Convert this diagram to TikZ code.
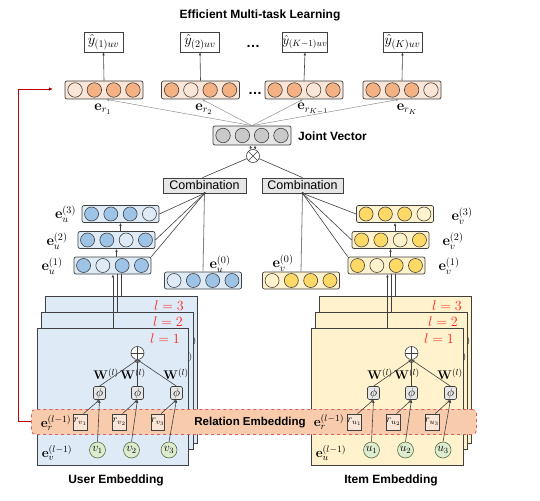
\RequirePackage{fix-cm}
\documentclass[tikz,border=0pt]{standalone}
\usepackage[no-math]{fontspec}
\setmainfont{Liberation Sans}
\usetikzlibrary{arrows.meta}
\definecolor{orD}{HTML}{F4B183}
\definecolor{orL}{HTML}{FBE5D6}
\definecolor{blD}{HTML}{9DC3E6}
\definecolor{blL}{HTML}{DEEBF7}
\definecolor{yeD}{HTML}{FFD966}
\definecolor{yeL}{HTML}{FFF2CC}
\definecolor{grD}{HTML}{C9C9C9}
\definecolor{grL}{HTML}{E7E6E6}
\definecolor{ubg}{HTML}{DEEBF7}
\definecolor{ibg}{HTML}{FFF2CC}
\definecolor{gnF}{HTML}{DDEBCF}
\definecolor{gnB}{HTML}{5A6E45}
\definecolor{bandF}{HTML}{F8CBAD}
\definecolor{bandB}{HTML}{E05A5A}
\definecolor{redA}{HTML}{C00000}
\definecolor{lred}{HTML}{FF2020}
\definecolor{edge}{HTML}{404040}
\definecolor{lgray}{HTML}{909090}

% name, x, y, frame style, circle size, colour list
\newcommand\embrow[6]{%
  \node[#4] (#1) at (#2,#3) {};
  \foreach \c [count=\i] in {#6}
    \node[circ,minimum size=#5pt,fill=\c] (#1-\i) at ({#2+(\i-2.5)*19.3},#3) {};
}
% prefix, box left x, letter
\newcommand\layerstuff[3]{%
  \node[opl] (#1op) at (#2+100.5,353) {};
  \draw[edge,line width=0.6pt] (#1op.north)--(#1op.south) (#1op.west)--(#1op.east);
  \foreach \k/\px/\rx/\cx/\wx in {1/62.5/43.5/60.5/69, 2/100.5/82.5/94.5/96, 3/139.5/121/132/139}{
    \node[phib] (#1phi\k) at (#2+\px,393) {$\phi$};
    \node[rbox] (#1r\k) at (#2+\rx,422) {$r_{#3_\k}$};
    \node[gcirc] (#1c\k) at (#2+\cx,450) {$#3_\k$};
    \node[wlab] (#1w\k) at (#2+\wx,374) {$\mathbf{W}^{(l)}$};
    \draw[arr] (#1phi\k.north) -- (#1op.south);
    \draw[arr] (#1c\k.north) -- (#1phi\k.south);
    \draw[arr] ([xshift=3pt]#1r\k.north) -- (#1phi\k.south);
  }
}

\begin{document}
\begin{tikzpicture}[x=1pt,y=-1pt,
  vecframe/.style={draw=edge, line width=0.7pt, rounded corners=2pt, minimum width=78pt, minimum height=18pt, inner sep=0pt},
  smallframe/.style={vecframe, minimum width=77pt, minimum height=17pt},
  circ/.style={circle, draw=edge, line width=0.6pt, inner sep=0pt},
  ybox/.style={draw=edge, line width=0.7pt, fill=white, minimum width=39pt, minimum height=20pt, inner sep=0pt, font=\fontsize{14.5}{16}\selectfont},
  mlab/.style={inner sep=0pt, font=\fontsize{14.5}{16}\selectfont},
  slab/.style={inner sep=0pt, font=\fontsize{13.5}{15}\selectfont},
  bigb/.style={inner sep=0pt, font=\fontsize{12}{14}\selectfont\bfseries},
  combst/.style={draw=edge, line width=0.7pt, fill=grL, minimum height=15pt, inner sep=0pt, font=\fontsize{12.5}{14}\selectfont},
  arr/.style={draw=edge, line width=0.6pt, -{Latex[length=3pt,width=2.6pt]}},
  garr/.style={draw=lgray, line width=0.5pt, -{Latex[length=3pt,width=2.6pt]}},
  dk/.style={draw=edge, line width=0.6pt},
  ubox/.style={draw=edge, line width=0.8pt, fill=ubg, anchor=north west, inner sep=0pt},
  ibox/.style={draw=edge, line width=0.8pt, fill=ibg, anchor=north west, inner sep=0pt},
  llab/.style={inner sep=0pt, text=lred, font=\fontsize{14}{16}\selectfont},
  opl/.style={circle, draw=edge, line width=0.6pt, fill=white, minimum size=13pt, inner sep=0pt},
  phib/.style={draw=edge, line width=0.6pt, fill=grL, rounded corners=1.5pt, minimum width=12pt, minimum height=13pt, inner sep=0pt, font=\fontsize{12}{13}\selectfont},
  rbox/.style={draw=edge, line width=0.6pt, fill=orL, minimum width=11pt, minimum height=16pt, inner sep=0pt, font=\fontsize{10.5}{12}\selectfont},
  gcirc/.style={circle, draw=gnB, line width=0.6pt, fill=gnF, minimum size=16pt, inner sep=0pt, font=\fontsize{12}{13}\selectfont},
  wlab/.style={inner sep=0pt, font=\fontsize{12.5}{14}\selectfont}
]
\useasboundingbox (0,0) rectangle (540,500);

% ---------- title and outputs ----------
\node[bigb] (title) at (260,15) {Efficient Multi-task Learning};
\node[ybox] (y1) at (103.5,42) {$\hat{y}_{(1)uv}$};
\node[ybox] (y2) at (200,42) {$\hat{y}_{(2)uv}$};
\node[ybox, font=\fontsize{13}{15}\selectfont] (y3) at (305,42) {$\hat{y}_{(K-1)uv}$};
\node[ybox] (y4) at (402.5,42) {$\hat{y}_{(K)uv}$};
\node[inner sep=0pt, font=\fontsize{14}{16}\selectfont\bfseries] (dots1) at (253,46) {\ldots};
\node[inner sep=0pt, font=\fontsize{14}{16}\selectfont\bfseries] (dots2) at (255,93) {\ldots};

% ---------- task vectors ----------
\embrow{vr1}{104}{90}{vecframe,fill=orL}{14.5}{orL,orD,orD,orD}
\embrow{vr2}{200.5}{90}{vecframe,fill=orL}{14.5}{orD,orL,orD,orD}
\embrow{vr3}{304}{90}{vecframe,fill=orL}{14.5}{orD,orD,orL,orD}
\embrow{vr4}{402}{90}{vecframe,fill=orL}{14.5}{orD,orD,orD,orL}
\foreach \i in {1,2,3,4} \draw[arr] (vr\i.north) -- (y\i.south);

\node[mlab] (er1) at (103,109) {$\mathbf{e}_{r_1}$};
\node[mlab] (er2) at (204,109) {$\mathbf{e}_{r_2}$};
\node[mlab] (er3) at (313,109) {$\mathbf{e}_{r_{K-1}}$};
\node[mlab] (er4) at (407,109) {$\mathbf{e}_{r_K}$};

% ---------- joint vector ----------
\embrow{joint}{252}{135.5}{vecframe,fill=grL,minimum height=19pt}{14.5}{grD,grD,grD,grD}
\node[bigb,anchor=west] (jlab) at (298,136) {Joint Vector};
\draw[garr] (joint.north) -- ([xshift=2pt]vr1.south);
\draw[garr] (joint.north) -- ([xshift=1.5pt]vr2.south);
\draw[garr] (joint.north) -- ([xshift=-1pt]vr3.south);
\draw[garr] (joint.north) -- ([xshift=-3pt]vr4.south);

\node[opl] (ot) at (253,156) {};
\draw[dk] (ot.north west) -- (ot.south east) (ot.north east) -- (ot.south west);
\draw[arr] ([xshift=-2pt]ot.north) -- ([xshift=-2pt]joint.south);
\draw[arr] ([xshift=2pt]ot.north) -- ([xshift=3pt]joint.south);

\node[combst, minimum width=83pt] (comb1) at (204.5,185.5) {Combination};
\node[combst, minimum width=81pt] (comb2) at (302.5,185.5) {Combination};
\draw[dk] ([xshift=-2pt]comb1.north) -- (ot);
\draw[dk] (comb2.north) -- (ot);

% ---------- user / item vectors ----------
\embrow{eu3}{120.5}{214}{smallframe,fill=blL}{14}{blD,blD,blD,blL}
\embrow{eu2}{116.5}{240}{smallframe,fill=blL}{14}{blD,blD,blL,blD}
\embrow{eu1}{112.5}{265.5}{smallframe,fill=blL}{14}{blD,blL,blD,blD}
\embrow{eu0}{203}{280.5}{smallframe,fill=blL}{14}{blL,blD,blD,blD}
\embrow{ev3}{395}{214}{smallframe,fill=yeL}{14}{yeD,yeD,yeD,yeL}
\embrow{ev2}{390.5}{240}{smallframe,fill=yeL}{14}{yeD,yeD,yeL,yeD}
\embrow{ev1}{386.5}{265.5}{smallframe,fill=yeL}{14}{yeD,yeL,yeD,yeD}
\embrow{ev0}{301}{280.5}{smallframe,fill=yeL}{14}{yeL,yeD,yeD,yeD}

\node[mlab] (leu3) at (65.5,214) {$\mathbf{e}_u^{(3)}$};
\node[mlab] (leu2) at (57,241) {$\mathbf{e}_u^{(2)}$};
\node[mlab] (leu1) at (52,266) {$\mathbf{e}_u^{(1)}$};
\node[mlab] (leu0) at (220,264) {$\mathbf{e}_u^{(0)}$};
\node[mlab] (lev3) at (462,216) {$\mathbf{e}_v^{(3)}$};
\node[mlab] (lev2) at (453,241) {$\mathbf{e}_v^{(2)}$};
\node[mlab] (lev1) at (449,266) {$\mathbf{e}_v^{(1)}$};
\node[mlab] (lev0) at (283,263) {$\mathbf{e}_v^{(0)}$};

\draw[dk] (comb1.south) -- (eu3.east);
\draw[dk] (comb1.south) -- (eu2.east);
\draw[dk] (comb1.south) -- (eu1.north east);
\draw[draw=gray, line width=0.8pt] (comb1.south) -- (eu0.north);
\draw[dk] (comb2.south) -- (ev3.west);
\draw[dk] (comb2.south) -- (ev2.west);
\draw[dk] (comb2.south) -- (ev1.north west);
\draw[draw=gray, line width=0.8pt] (comb2.south) -- (ev0.north);
\fill[edge] (comb1.south) circle (1.6pt);
\fill[edge] (comb2.south) circle (1.6pt);

\draw[arr] (eu2.south |- eu1.north) -- (eu2.south);
\draw[arr] (eu3.south |- eu2.north) -- (eu3.south);
\draw[arr] (ev2.south |- ev1.north) -- (ev2.south);
\draw[arr] (ev3.south |- ev2.north) -- (ev3.south);

% ---------- stacks ----------
\node[ubox, minimum width=152pt, minimum height=147pt] (us3) at (45,296) {};
\node[wlab] (us3w) at (184,342) {$\mathbf{W}^{(l)}$};
\node[llab] (us3l) at (169,306) {$l=3$};
\node[ubox, minimum width=152pt, minimum height=137pt] (us2) at (41,312) {};
\node[wlab] (us2w) at (180,358) {$\mathbf{W}^{(l)}$};
\node[llab] (us2l) at (168,322) {$l=2$};
\node[ubox, minimum width=151pt, minimum height=137pt] (us1) at (37,328) {};
\node[llab] (us1l) at (165,339) {$l=1$};

\node[ibox, minimum width=152pt, minimum height=147pt] (is3) at (319,296) {};
\node[wlab] (is3w) at (458,342) {$\mathbf{W}^{(l)}$};
\node[llab] (is3l) at (447,306) {$l=3$};
\node[ibox, minimum width=152pt, minimum height=137pt] (is2) at (315,312) {};
\node[wlab] (is2w) at (454,358) {$\mathbf{W}^{(l)}$};
\node[llab] (is2l) at (443,322) {$l=2$};
\node[ibox, minimum width=152pt, minimum height=137pt] (is1) at (311,328) {};
\node[llab] (is1l) at (439,339) {$l=1$};

\draw[arr] (us1.north) -- (us1.north |- eu1.south);
\draw[dk] (us2.north) -- (us2.north |- eu1.south);
\draw[dk] (us3.north) -- (us3.north |- eu1.south);
\draw[arr] (is1.north) -- (is1.north |- ev1.south);
\draw[dk] (is2.north) -- (is2.north |- ev1.south);
\draw[dk] (is3.north) -- (is3.north |- ev1.south);

% ---------- relation band ----------
\node[draw=bandB, dashed, line width=0.8pt, fill=bandF, rounded corners=4pt, anchor=north west,
      minimum width=445pt, minimum height=25pt, inner sep=0pt] (band) at (31,409) {};
\node[inner sep=0pt, font=\fontsize{11.5}{13}\selectfont\bfseries] (rlab) at (250,423) {Relation Embedding};
\node[slab] (uer) at (56,423) {$\mathbf{e}_r^{(l-1)}$};
\node[slab] (uev) at (57,453) {$\mathbf{e}_v^{(l-1)}$};
\node[slab] (ier) at (329,422) {$\mathbf{e}_r^{(l-1)}$};
\node[slab] (ieu) at (331,453) {$\mathbf{e}_u^{(l-1)}$};

\layerstuff{u}{37}{v}
\layerstuff{i}{311}{u}

% ---------- red feedback ----------
\coordinate (redturn) at (18,89);
\coordinate (redend) at (53,89);
\draw[redA, line width=0.9pt, -{Latex[length=4pt,width=3.5pt]}] (band.west) -| (redturn) -- (redend);

% ---------- captions ----------
\node[bigb] (ucap) at (116,480) {User Embedding};
\node[bigb] (icap) at (391,480) {Item Embedding};
\end{tikzpicture}
\end{document}
